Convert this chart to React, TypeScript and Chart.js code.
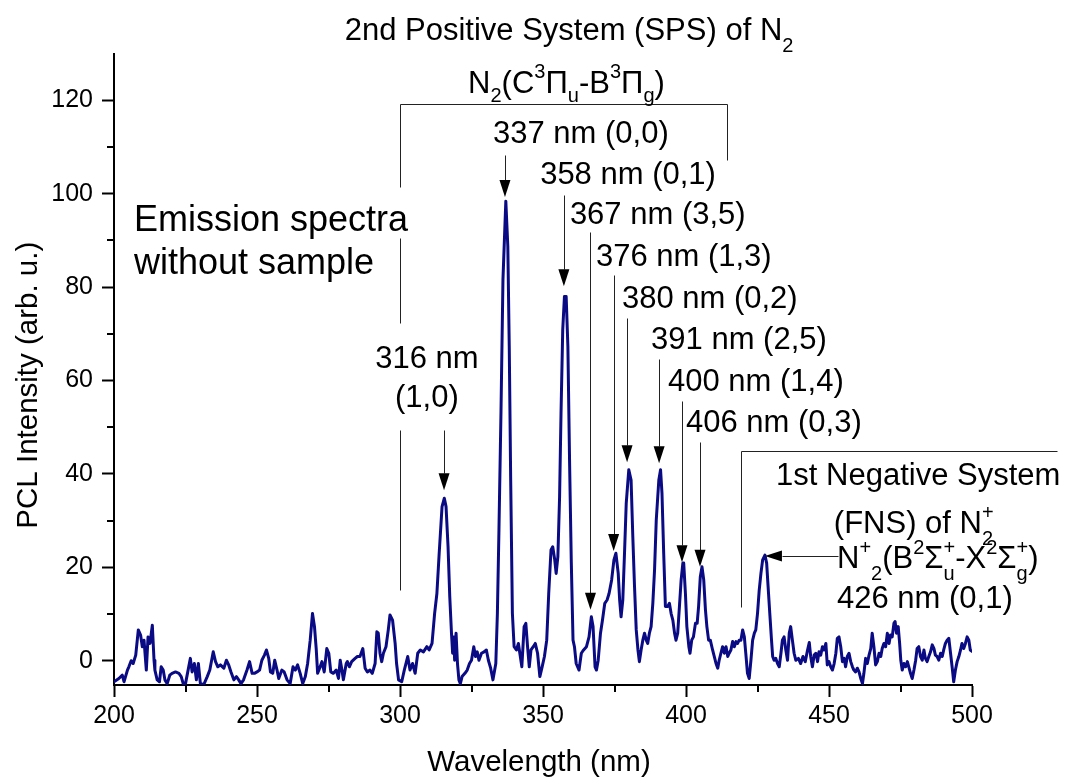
import React, { useEffect, useRef } from "react";
import { Chart, registerables } from "chart.js";

Chart.register(...registerables);

// ---------- data ----------
const wavelengths = [
  200.0, 201.7, 202.9, 203.5, 204.7, 205.2, 206.0, 206.7, 207.6, 208.5, 209.3, 209.9, 210.5, 211.3, 211.9, 212.6, 213.4, 214.0, 214.3, 215.1,
  215.9, 216.5, 217.2, 217.8, 218.6, 219.5, 220.3, 221.5, 222.7, 223.5, 224.2, 225.0, 226.7, 227.3, 228.1, 228.8, 229.5, 230.2, 231.4, 232.6,
  233.5, 234.7, 235.5, 236.3, 237.2, 238.4, 239.3, 240.1, 240.9, 241.9, 242.8, 243.6, 244.4, 245.3, 246.5, 247.4, 248.3, 249.1, 250.0, 250.9,
  251.7, 252.6, 253.3, 254.1, 254.7, 255.5, 256.2, 257.0, 257.6, 258.7, 259.5, 260.5, 261.6, 262.6, 263.4, 264.2, 265.1, 266.0, 266.9, 267.7,
  268.6, 269.4, 270.1, 270.7, 271.2, 271.9, 272.7, 273.5, 274.4, 275.1, 275.8, 276.7, 277.7, 278.5, 279.1, 279.7, 280.2, 281.2, 281.6, 282.3,
  283.1, 284.3, 285.1, 286.0, 287.0, 287.8, 288.6, 289.5, 290.3, 291.3, 291.9, 292.4, 293.0, 293.6, 294.2, 295.1, 295.9, 296.5, 297.4, 298.3,
  298.8, 299.5, 300.6, 301.5, 302.7, 303.5, 304.4, 305.3, 306.2, 307.1, 308.2, 309.4, 310.2, 311.2, 312.1, 312.9, 313.7, 314.7, 315.5, 316.1,
  316.8, 317.4, 318.0, 318.4, 318.8, 319.1, 319.6, 320.1, 320.6, 321.1, 321.7, 322.7, 323.5, 324.3, 325.0, 325.8, 326.4, 327.0, 327.6, 328.5,
  329.4, 330.2, 330.9, 331.7, 332.5, 333.5, 334.05, 334.6, 335.3, 336.0, 337.0, 337.7, 338.2, 338.7, 339.3, 339.9, 340.7, 341.4, 341.9, 342.6,
  343.4, 344.0, 344.6, 345.2, 345.8, 346.6, 347.3, 348.1, 348.9, 349.7, 350.5, 351.3, 352.0, 352.8, 353.4, 354.1, 354.6, 355.2, 355.8, 356.3,
  356.9, 357.5, 358.1, 358.7, 359.3, 359.9, 360.5, 361.0, 361.6, 362.6, 363.4, 364.2, 365.2, 366.1, 366.9, 367.5, 368.2, 368.7, 369.3, 370.1,
  370.8, 371.6, 372.4, 373.1, 374.0, 374.8, 375.5, 376.3, 376.8, 377.3, 377.9, 378.5, 379.1, 380.0, 380.8, 381.4, 382.0, 382.6, 383.2, 383.7,
  384.3, 384.9, 385.5, 386.1, 386.6, 387.2, 387.8, 388.4, 389.0, 389.6, 390.5, 391.1, 391.6, 392.2, 392.8, 393.6, 394.2, 394.8, 395.4, 396.0,
  396.5, 397.1, 397.7, 398.3, 398.9, 399.2, 399.8, 400.3, 401.0, 401.4, 402.0, 402.6, 403.3, 403.9, 404.4, 405.0, 405.6, 406.2, 406.8, 407.3,
  407.9, 408.5, 409.3, 409.9, 410.5, 411.1, 411.6, 412.2, 412.8, 413.4, 414.0, 414.6, 415.1, 415.7, 416.3, 416.9, 417.5, 418.0, 418.6, 419.2,
  419.8, 420.4, 420.9, 421.5, 422.1, 422.7, 423.3, 423.9, 424.4, 425.0, 425.6, 426.2, 426.8, 427.6, 428.2, 428.7, 429.3, 429.9, 430.3, 430.8,
  431.4, 432.0, 432.6, 433.2, 433.7, 434.3, 434.9, 435.5, 436.1, 436.6, 437.2, 437.8, 438.4, 439.3, 440.1, 440.9, 441.7, 442.5, 443.1, 443.6,
  444.2, 444.8, 445.4, 446.0, 446.5, 447.1, 447.7, 448.3, 448.9, 449.4, 450.0, 450.6, 451.2, 451.8, 452.4, 452.9, 453.5, 454.1, 454.7, 455.3,
  455.8, 456.4, 457.0, 457.6, 458.2, 458.7, 459.3, 459.9, 460.5, 461.1, 461.7, 462.2, 462.8, 463.4, 464.0, 464.6, 465.1, 465.7, 466.3, 466.9,
  467.5, 468.1, 468.6, 469.2, 469.8, 470.4, 471.0, 471.5, 472.1, 472.7, 473.1, 473.6, 474.2, 474.7, 475.1, 475.6, 476.2, 476.8, 477.4, 477.9,
  478.5, 479.1, 479.7, 480.3, 480.8, 481.4, 482.0, 482.6, 483.2, 483.7, 484.3, 484.9, 485.5, 486.1, 486.7, 487.2, 487.8, 488.4, 489.0, 489.6,
  490.1, 490.7, 491.3, 491.9, 492.5, 493.1, 493.6, 494.2, 494.8, 495.4, 496.0, 496.5, 497.1, 497.7, 498.3, 498.9, 499.4, 500.0,
];

const intensities = [
  -4.5, -3.8, -3.1, -4.5, -2.0, -1.3, 0.0, -0.6, 1.2, 6.6, 5.5, 3.0, 4.4, -2.0, 5.1, 3.7, 7.6, 0.1, -2.0, -4.1,
  -4.5, -1.3, -2.0, -4.1, -4.9, -3.1, -2.7, -2.4, -2.7, -3.4, -4.9, -4.9, 0.5, -2.4, -0.6, -4.1, -0.6, -4.9, -5.1, -3.4,
  -2.0, 1.9, -0.2, -1.3, -0.9, -1.6, 0.1, -0.9, -2.4, -4.1, -3.4, -4.1, -4.9, -4.1, -2.0, -0.2, -2.7, -2.7, -2.4, -2.0,
  0.1, 1.2, 2.3, 0.5, -2.4, -2.7, 0.1, -2.0, -3.8, -2.0, -2.4, -4.1, -4.9, -1.3, -2.0, -0.9, -2.7, -4.9, -3.4, -0.6,
  4.4, 10.1, 7.3, 2.6, -2.7, -1.6, -0.2, -2.4, 2.6, 1.6, -2.4, -2.7, -2.0, -3.8, 0.1, -2.0, -4.1, -0.6, -0.2, -1.3,
  -0.2, 0.5, 0.9, 0.9, 2.6, -1.6, -2.4, -2.0, -2.7, -0.6, 6.2, 5.9, 1.6, -0.2, 1.6, 3.0, 6.6, 9.8, 8.7, 3.7,
  -0.6, -4.1, -4.5, -2.0, 0.9, -2.0, -0.6, -2.7, 1.6, 2.3, 1.9, 3.0, 2.3, 3.7, 10.1, 14.4, 23.0, 33.0, 34.8, 33.0,
  24.4, 13.7, 5.9, 1.6, 5.1, 0.1, 5.9, -0.6, -4.1, -4.9, -3.4, -2.7, -2.0, -0.6, 0.1, 3.0, 0.9, 1.9, 0.1, 1.6,
  1.9, 2.3, 0.1, -1.6, -4.1, -0.6, 10.1, 28.0, 53.0, 81.6, 98.4, 88.7, 67.3, 38.7, 10.1, 3.0, 2.3, 3.7, 1.6, -1.3,
  7.3, 8.0, 3.0, -1.3, 2.3, 3.0, 3.7, 1.6, -3.4, -1.3, 0.9, 4.4, 14.4, 23.7, 24.4, 21.6, 18.7, 22.3, 35.1, 53.0,
  70.9, 78.0, 78.0, 67.3, 42.3, 20.9, 4.4, 3.0, -0.6, -2.0, 1.6, 2.3, 3.0, 5.1, 9.4, 7.3, -1.3, -2.0, 0.1, 5.9,
  8.7, 12.3, 13.0, 14.4, 17.3, 21.6, 23.0, 18.7, 13.0, 9.4, 13.0, 23.0, 33.7, 40.9, 38.7, 26.6, 15.9, 6.6, 2.3, -0.2,
  2.3, 4.4, 5.9, 4.4, 3.7, 5.9, 7.3, 12.3, 19.4, 30.1, 38.7, 40.9, 35.9, 23.0, 11.6, 11.6, 12.3, 10.1, 8.7, 5.9,
  4.4, 5.9, 11.6, 17.3, 20.9, 20.9, 14.4, 7.3, 3.0, 1.6, 4.4, 5.1, 8.0, 8.0, 11.6, 18.0, 20.1, 17.3, 10.9, 7.3,
  4.4, 4.4, 2.3, 0.9, -0.6, -1.6, 0.1, 1.6, 3.0, 1.6, 3.0, 0.9, 1.6, 2.3, 4.1, 3.0, 4.1, 3.7, 4.4, 4.4,
  6.6, 5.1, 1.6, -2.7, -3.8, 0.1, 4.4, 5.9, 6.6, 10.1, 15.1, 18.7, 21.6, 22.6, 20.9, 15.9, 10.1, 4.4, 0.9, 0.1,
  0.5, -0.6, -1.3, 1.6, 4.4, 5.1, 2.3, 0.1, 5.9, 7.3, 4.4, 1.6, 0.1, 0.5, -0.6, 0.9, -0.2, 2.3, 3.9, 0.9,
  -1.3, 1.2, 1.6, -0.2, 1.9, 1.2, 3.0, 2.3, 3.7, -0.9, -0.2, -1.3, -2.0, -0.6, 1.6, 4.8, 5.1, 3.0, -0.2, 0.5,
  -1.3, 0.9, 1.6, -0.2, -1.3, -2.0, -2.4, -1.6, -2.4, -3.8, -4.9, -2.7, 0.5, -0.6, 1.2, 2.6, 5.9, 3.0, -0.9, -0.2,
  1.6, 0.9, 2.6, 3.7, 3.0, 5.9, 3.7, 5.5, 5.1, 8.0, 8.4, 5.9, 7.3, 3.7, 0.1, -2.0, -0.6, -1.3, -0.2, -1.3,
  -2.7, -3.8, -2.0, 0.1, 2.6, 3.0, 0.9, 0.1, 2.3, 0.5, -0.2, 0.9, 1.9, 3.4, 2.6, 1.2, 0.9, 0.1, 1.6, 0.9,
  2.3, 3.7, 4.4, 4.8, 1.6, -1.6, -4.5, -2.0, -0.2, 0.9, 2.3, 3.7, 2.6, 3.7, 5.1, 4.4, 2.3, 2.0,
];

const xTickValues = [200, 250, 300, 350, 400, 450, 500];
const yTickValues = [0, 20, 40, 60, 80, 100, 120];
const xMinorTicks = [225, 275, 325, 375, 425, 475];
const yMinorTicks = [10, 30, 50, 70, 90, 110];

const xAxisTitle = "Wavelength (nm)";
const yAxisTitle = "PCL Intensity (arb. u.)";

// ---------- annotations (in data coordinates) ----------
type Seg = [string, number]; // 0 normal, 1 sup, 2 sub, 3 stacked "sup|sub"
type TextItem = { segs: Seg[]; x: number; y: number; size: number; align: "left" | "center"; sub?: number };

const FONT = '"Liberation Sans", Arial, sans-serif';

const peakLabelTexts = [
  "337 nm (0,0)", "358 nm (0,1)", "367 nm (3,5)", "376 nm (1,3)",
  "380 nm (0,2)", "391 nm (2,5)", "400 nm (1,4)", "406 nm (0,3)",
];
const peakLabelX = [332.5, 349.0, 359.4, 368.5, 377.6, 387.8, 393.7, 400.0];
const peakLabelY = [110.9, 102.1, 93.6, 84.5, 75.6, 66.8, 57.8, 48.9];

const texts: TextItem[] = [
  { segs: [["2nd Positive System (SPS) of N", 0], ["2", 2]], x: 359.1, y: 132.9, size: 31, align: "center" },
  {
    segs: [["N", 0], ["2", 2], ["(C", 0], ["3", 1], ["Π", 0], ["u", 2], ["-B", 0], ["3", 1], ["Π", 0], ["g", 2], [")", 0]],
    x: 358.2, y: 121.6, size: 31, align: "center", sub: 0.3,
  },
  { segs: [["Emission spectra", 0]], x: 207.0, y: 92.0, size: 36, align: "left" },
  { segs: [["without sample", 0]], x: 207.0, y: 82.8, size: 36, align: "left" },
  { segs: [["316 nm", 0]], x: 309.4, y: 62.7, size: 31, align: "center" },
  { segs: [["(1,0)", 0]], x: 309.4, y: 54.3, size: 31, align: "center" },
  ...peakLabelTexts.map((t, i) => ({ segs: [[t, 0]] as Seg[], x: peakLabelX[i], y: peakLabelY[i], size: 31, align: "left" as const })),
  { segs: [["1st Negative System", 0]], x: 431.5, y: 37.6, size: 31, align: "left" },
  { segs: [["(FNS) of N", 0], ["+|2", 3]], x: 451.7, y: 27.3, size: 31, align: "left" },
  {
    segs: [["N", 0], ["+", 1], ["2", 2], ["(B", 0], ["2", 1], ["Σ", 0], ["+|u", 3], ["-X", 0], ["2", 1], ["Σ", 0], ["+|g", 3], [")", 0]],
    x: 452.8, y: 19.8, size: 31, align: "left",
  },
  { segs: [["426 nm (0,1)", 0]], x: 452.8, y: 11.3, size: 31, align: "left" },
];

// arrows: [x1, y1, x2(tip), y2(tip)]
const arrows: number[][] = [
  [315.4, 49.4, 315.4, 36.5],
  [336.7, 108.3, 336.7, 99.3],
  [357.3, 99.7, 357.3, 80.2],
  [366.6, 91.8, 366.6, 10.9],
  [374.7, 82.6, 374.7, 23.5],
  [379.4, 73.4, 379.4, 42.5],
  [390.6, 64.6, 390.6, 42.3],
  [398.6, 55.6, 398.6, 21.1],
  [404.9, 46.8, 404.9, 20.1],
  [453.1, 22.4, 427.6, 22.4],
];

// bracket line segments: [x1, y1, x2, y2]
const bracketLines: number[][] = [
  [300.0, 119.2, 414.3, 119.2],
  [300.0, 119.2, 300.0, 101.4],
  [300.0, 90.5, 300.0, 72.3],
  [300.0, 49.4, 300.0, 15.1],
  [414.3, 119.2, 414.3, 107.2],
  [419.2, 44.9, 529.7, 44.9],
  [419.2, 44.9, 419.2, 11.5],
];

function drawRich(ctx: CanvasRenderingContext2D, segs: Seg[], x: number, y: number, size: number, align: string, subK = 0.38) {
  const small = Math.round(size * 0.65);
  const fN = `${size}px ${FONT}`;
  const fS = `${small}px ${FONT}`;
  const widths = segs.map(([t, k]) => {
    if (k === 0) {
      ctx.font = fN;
      return ctx.measureText(t).width;
    }
    ctx.font = fS;
    if (k === 3) {
      const [a, b] = t.split("|");
      return Math.max(ctx.measureText(a).width, ctx.measureText(b).width);
    }
    return ctx.measureText(t).width;
  });
  const total = widths.reduce((a, b) => a + b, 0);
  let cx = align === "center" ? x - total / 2 : x;
  ctx.textAlign = "left";
  ctx.textBaseline = "alphabetic";
  ctx.fillStyle = "#000";
  const supOff = -size * 0.47;
  const subOff = size * subK;
  segs.forEach(([t, k], i) => {
    if (k === 0) {
      ctx.font = fN;
      ctx.fillText(t, cx, y);
    } else {
      ctx.font = fS;
      if (k === 1) ctx.fillText(t, cx, y + supOff);
      else if (k === 2) ctx.fillText(t, cx, y + subOff);
      else {
        const [a, b] = t.split("|");
        ctx.fillText(a, cx, y + supOff);
        ctx.fillText(b, cx, y + subOff);
      }
    }
    cx += widths[i];
  });
}

const annotationPlugin = {
  id: "spectrumAnnotations",
  afterDraw(chart: any) {
    const { ctx, chartArea } = chart;
    const xs = chart.scales.x;
    const ys = chart.scales.y;
    const px = (v: number) => xs.getPixelForValue(v);
    const py = (v: number) => ys.getPixelForValue(v);
    ctx.save();

    // minor ticks
    ctx.strokeStyle = "#000";
    ctx.lineWidth = 2;
    ctx.beginPath();
    for (const v of xMinorTicks) {
      const xx = Math.round(px(v));
      ctx.moveTo(xx, xs.top);
      ctx.lineTo(xx, xs.top + 7);
    }
    for (const v of yMinorTicks) {
      const yy = Math.round(py(v));
      ctx.moveTo(ys.right, yy);
      ctx.lineTo(ys.right - 7, yy);
    }
    ctx.stroke();

    // brackets
    ctx.strokeStyle = "#222";
    ctx.lineWidth = 1;
    ctx.beginPath();
    for (const [x1, y1, x2, y2] of bracketLines) {
      ctx.moveTo(Math.round(px(x1)) + 0.5, Math.round(py(y1)) + 0.5);
      ctx.lineTo(Math.round(px(x2)) + 0.5, Math.round(py(y2)) + 0.5);
    }
    ctx.stroke();

    // arrows
    ctx.fillStyle = "#000";
    for (const [x1, y1, x2, y2] of arrows) {
      const ax = px(x1), ay = py(y1), bx = px(x2), by = py(y2);
      const dx = bx - ax, dy = by - ay;
      const len = Math.hypot(dx, dy);
      const ux = dx / len, uy = dy / len;
      const head = 17, hw = 5.5;
      ctx.beginPath();
      ctx.moveTo(Math.round(ax) + 0.5, Math.round(ay) + 0.5);
      ctx.lineTo(Math.round(bx - ux * head) + 0.5, Math.round(by - uy * head) + 0.5);
      ctx.stroke();
      ctx.beginPath();
      ctx.moveTo(bx, by);
      ctx.lineTo(bx - ux * head - uy * hw, by - uy * head + ux * hw);
      ctx.lineTo(bx - ux * head + uy * hw, by - uy * head - ux * hw);
      ctx.closePath();
      ctx.fill();
    }

    // texts
    for (const t of texts) drawRich(ctx, t.segs, px(t.x), py(t.y), t.size, t.align, t.sub ?? 0.38);

    // axis titles
    ctx.fillStyle = "#000";
    ctx.font = `29.5px ${FONT}`;
    ctx.textAlign = "center";
    ctx.textBaseline = "alphabetic";
    ctx.fillText(xAxisTitle, px(348.6), chartArea.bottom + 86);
    ctx.save();
    ctx.translate(chartArea.left - 77, py(59.0));
    ctx.rotate(-Math.PI / 2);
    ctx.fillText(yAxisTitle, 0, 0);
    ctx.restore();

    ctx.restore();
  },
};

export default function App() {
  const canvasRef = useRef<HTMLCanvasElement | null>(null);

  useEffect(() => {
    document.body.style.margin = "0";
    const canvas = canvasRef.current;
    if (!canvas) return;
    Chart.defaults.font.family = FONT;
    const points = wavelengths.map((w, i) => ({ x: w, y: intensities[i] }));
    const chart = new Chart(canvas, {
      type: "line",
      data: {
        datasets: [
          {
            data: points,
            borderColor: "#0a0a84",
            borderWidth: 3,
            pointRadius: 0,
            tension: 0,
            fill: false,
            borderJoinStyle: "round",
            borderCapStyle: "round",
          },
        ],
      },
      options: {
        animation: false,
        responsive: false,
        devicePixelRatio: 1,
        layout: { padding: { top: 53.6, right: 98, left: 0, bottom: 0 } },
        plugins: { legend: { display: false }, tooltip: { enabled: false } },
        scales: {
          x: {
            type: "linear",
            min: 200,
            max: 500,
            afterBuildTicks: (s: any) => {
              s.ticks = xTickValues.map((v) => ({ value: v }));
            },
            afterFit: (s: any) => {
              s.height = 94;
            },
            grid: { drawOnChartArea: false, drawTicks: true, tickLength: 12, tickWidth: 2, tickColor: "#000" },
            border: { display: true, color: "#000", width: 2 },
            ticks: { color: "#000", font: { size: 25 }, padding: 4, maxRotation: 0, autoSkip: false },
          },
          y: {
            type: "linear",
            min: -5.2,
            max: 130,
            afterBuildTicks: (s: any) => {
              s.ticks = yTickValues.map((v) => ({ value: v }));
            },
            afterFit: (s: any) => {
              s.width = 114;
            },
            grid: { drawOnChartArea: false, drawTicks: true, tickLength: 12, tickWidth: 2, tickColor: "#000" },
            border: { display: true, color: "#000", width: 2 },
            ticks: { color: "#000", font: { size: 25 }, padding: 9, autoSkip: false },
          },
        },
      },
      plugins: [annotationPlugin],
    } as any);
    return () => chart.destroy();
  }, []);

  return (
    <div style={{ width: 1070, height: 779, background: "#fff" }}>
      <canvas ref={canvasRef} width={1070} height={779} />
    </div>
  );
}
